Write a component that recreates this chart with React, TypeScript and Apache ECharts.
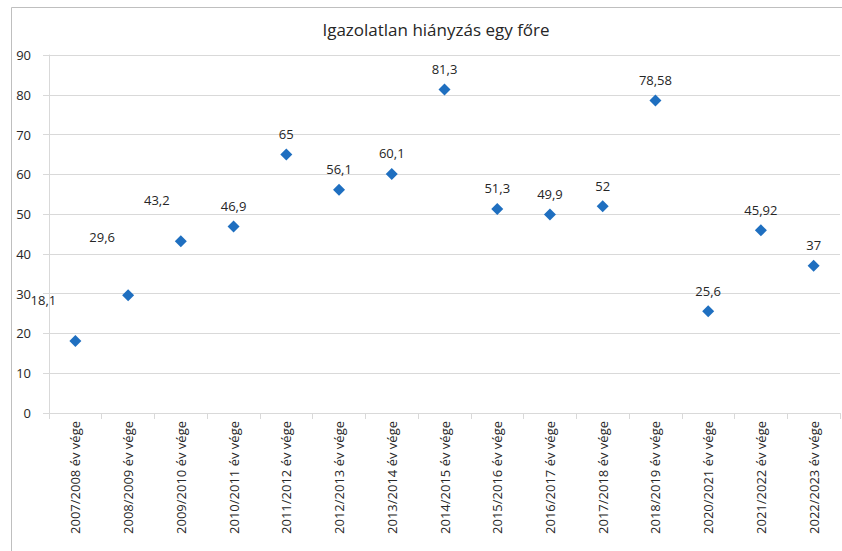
import React, { useEffect, useRef } from "react";
import * as echarts from "echarts";

const categories = [
  "2007/2008 év vége",
  "2008/2009 év vége",
  "2009/2010 év vége",
  "2010/2011 év vége",
  "2011/2012 év vége",
  "2012/2013 év vége",
  "2013/2014 év vége",
  "2014/2015 év vége",
  "2015/2016 év vége",
  "2016/2017 év vége",
  "2017/2018 év vége",
  "2018/2019 év vége",
  "2020/2021 év vége",
  "2021/2022 év vége",
  "2022/2023 év vége",
];

const values = [18.1, 29.6, 43.2, 46.9, 65, 56.1, 60.1, 81.3, 51.3, 49.9, 52, 78.58, 25.6, 45.92, 37];

// manual label shifts (Excel-style moved labels), index -> [dx, dy]
const labelShifts: Record<number, [number, number]> = {
  0: [-32, -21],
  1: [-26, -38],
  2: [-24, -21],
};

const title = "Igazolatlan hiányzás egy főre";
const yMin = 0;
const yMax = 90;
const yStep = 10;

export default function App() {
  const ref = useRef<HTMLDivElement>(null);

  useEffect(() => {
    if (!ref.current) return;
    const chart = echarts.init(ref.current, undefined, { renderer: "svg" });
    const font = "'Open Sans', 'Noto Sans', sans-serif";
    chart.setOption({
      animation: false,
      backgroundColor: "#ffffff",
      title: {
        text: title,
        left: 431,
        top: 16,
        textAlign: "center",
        textStyle: {
          fontFamily: font,
          fontSize: 17,
          fontWeight: "normal",
          color: "#262626",
        },
      },
      graphic: [
        {
          type: "rect",
          shape: { x: 11.5, y: 7.5, width: 900, height: 700 },
          style: { fill: "none", stroke: "#bfbfbf", lineWidth: 1 },
          silent: true,
        },
      ],
      grid: { left: 49, right: 2, top: 55, bottom: 138, containLabel: false },
      xAxis: {
        type: "category",
        data: categories,
        boundaryGap: true,
        axisLine: { show: true, lineStyle: { color: "#d9d9d9", width: 1 } },
        axisTick: { show: true, length: 6, alignWithLabel: false, lineStyle: { color: "#d9d9d9" } },
        axisLabel: {
          rotate: 90,
          interval: 0,
          margin: 8,
          fontFamily: font,
          fontSize: 13,
          color: "#262626",
        },
        splitLine: { show: false },
      },
      yAxis: {
        type: "value",
        min: yMin,
        max: yMax,
        interval: yStep,
        axisLine: { show: true, lineStyle: { color: "#d9d9d9", width: 1 } },
        axisTick: { show: true, length: 6, lineStyle: { color: "#d9d9d9" } },
        axisLabel: {
          margin: 18,
          fontFamily: font,
          fontSize: 13,
          color: "#262626",
        },
        splitLine: { show: true, lineStyle: { color: "#d9d9d9", width: 1 } },
      },
      series: [
        {
          type: "scatter",
          symbol: "diamond",
          symbolSize: 12,
          itemStyle: { color: "#1f6fc0", opacity: 1 },
          label: {
            show: true,
            position: "top",
            distance: 8,
            fontFamily: font,
            fontSize: 13,
            color: "#262626",
            formatter: (p: any) => String(p.value).replace(".", ","),
          },
          data: values.map((v, i) =>
            labelShifts[i] ? { value: v, label: { offset: labelShifts[i] } } : v
          ),
        },
      ],
    });
    return () => chart.dispose();
  }, []);

  return (
    <div
      ref={ref}
      style={{ position: "fixed", left: 0, top: 0, width: 842, height: 551 }}
    />
  );
}
